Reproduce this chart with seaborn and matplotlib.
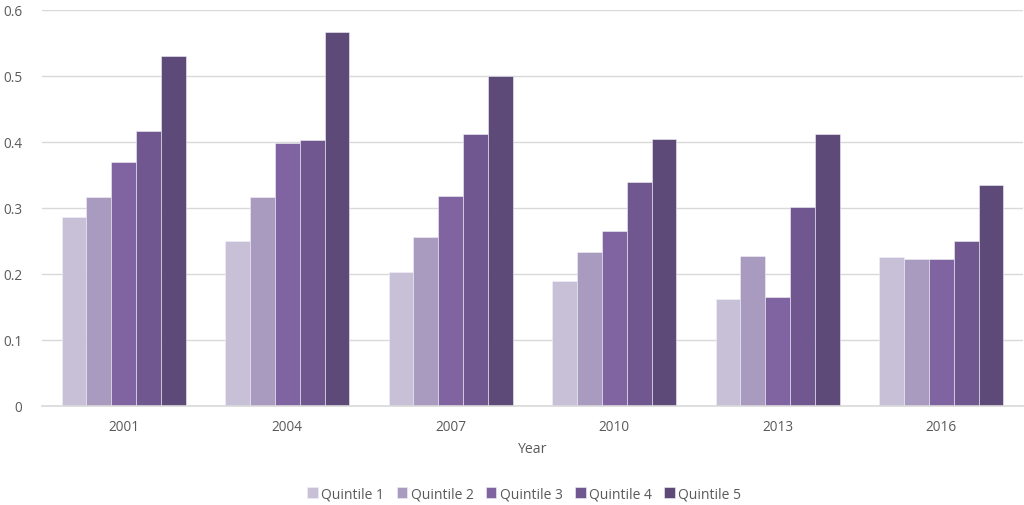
import matplotlib
matplotlib.use("Agg")
import matplotlib.pyplot as plt
import seaborn as sns
import pandas as pd

years = ["2001", "2004", "2007", "2010", "2013", "2016"]
quintiles = ["Quintile 1", "Quintile 2", "Quintile 3", "Quintile 4", "Quintile 5"]
q1 = [0.286, 0.249, 0.202, 0.189, 0.162, 0.225]
q2 = [0.316, 0.316, 0.255, 0.232, 0.227, 0.222]
q3 = [0.369, 0.398, 0.317, 0.264, 0.164, 0.222]
q4 = [0.416, 0.402, 0.412, 0.339, 0.301, 0.250]
q5 = [0.530, 0.566, 0.500, 0.404, 0.411, 0.334]
yticks = [0, 0.1, 0.2, 0.3, 0.4, 0.5, 0.6]
ytick_labels = ["0", "0.1", "0.2", "0.3", "0.4", "0.5", "0.6"]

colors = ["#C7C0D6", "#A99BBF", "#8064A2", "#705790", "#5E4A78"]

rows = []
for name, vals in zip(quintiles, [q1, q2, q3, q4, q5]):
    for yr, v in zip(years, vals):
        rows.append({"Year": yr, "Quintile": name, "Value": v})
df = pd.DataFrame(rows)

sns.set_theme(style="white")
plt.rcParams["font.family"] = ["Open Sans", "DejaVu Sans"]

fig = plt.figure(figsize=(10.24, 5.06), dpi=100)
ax = fig.add_axes([0.041, 0.1966, 0.958, 0.7826])

sns.barplot(data=df, x="Year", y="Value", hue="Quintile", order=years,
            hue_order=quintiles, palette=colors, width=0.76,
            edgecolor="#F2F0F6", linewidth=0.4, ax=ax, errorbar=None,
            saturation=1)

ax.set_xlim(-0.5, len(years) - 0.5)
ax.set_ylim(0, 0.6)
ax.set_yticks(yticks)
ax.set_yticklabels(ytick_labels)
ax.yaxis.grid(True, color="#D9D9D9", linewidth=1)
ax.set_axisbelow(True)
for s in ["top", "right", "left"]:
    ax.spines[s].set_visible(False)
ax.spines["bottom"].set_color("#D9D9D9")
ax.spines["bottom"].set_linewidth(1.2)
ax.tick_params(axis="both", length=0, labelsize=9.8, labelcolor="#595959")
ax.tick_params(axis="x", pad=10)
ax.tick_params(axis="y", pad=14)
ax.set_xlabel("Year", fontsize=10.2, color="#595959", labelpad=5)
ax.set_ylabel("")

handles, labels = ax.get_legend_handles_labels()
ax.legend(handles, labels, loc="center", bbox_to_anchor=(0.512, 0.022),
          bbox_transform=fig.transFigure, ncol=5, frameon=False,
          fontsize=10, labelcolor="#595959", handlelength=0.75,
          handleheight=0.75, handletextpad=0.25, columnspacing=0.9)

fig.savefig("out.png", dpi=100, facecolor="white")
